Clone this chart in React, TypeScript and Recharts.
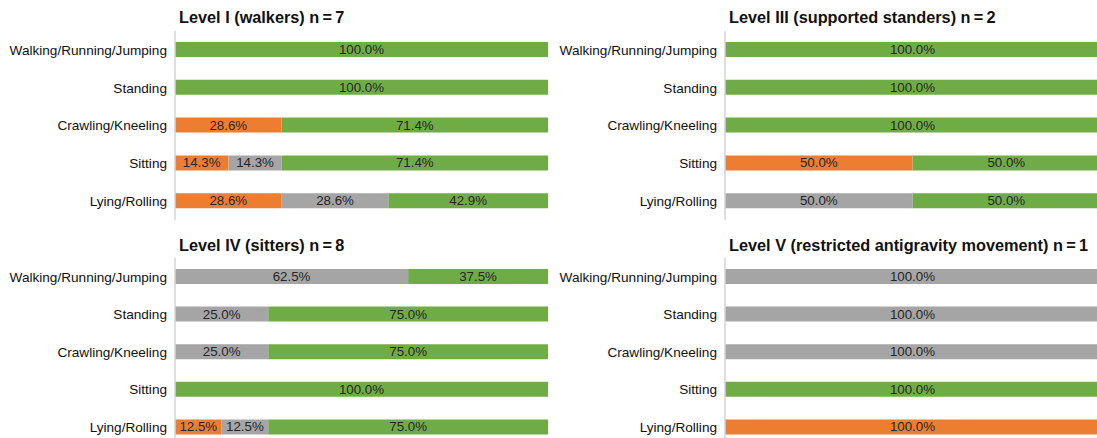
import React from 'react';
import { BarChart, Bar, XAxis, YAxis, LabelList } from 'recharts';

const categories = ['Walking/Running/Jumping', 'Standing', 'Crawling/Kneeling', 'Sitting', 'Lying/Rolling'];

// orange / gray / green shares (%) per level
const level1Orange = [0, 0, 28.6, 14.3, 28.6];
const level1Gray = [0, 0, 0, 14.3, 28.6];
const level1Green = [100, 100, 71.4, 71.4, 42.9];

const level3Orange = [0, 0, 0, 50, 0];
const level3Gray = [0, 0, 0, 0, 50];
const level3Green = [100, 100, 100, 50, 50];

const level4Orange = [0, 0, 0, 0, 12.5];
const level4Gray = [62.5, 25, 25, 0, 12.5];
const level4Green = [37.5, 75, 75, 100, 75];

const level5Orange = [0, 0, 0, 0, 100];
const level5Gray = [100, 100, 100, 0, 0];
const level5Green = [0, 0, 0, 100, 0];

const FONT = '"Liberation Sans", Arial, sans-serif';
const ORANGE = '#ED7D31';
const GRAY = '#A5A5A5';
const GREEN = '#6FAC46';

const renderLabel = (props: any) => {
  const { x, y, width, height, value } = props;
  if (!value) return null;
  return (
    <text
      x={Number(x) + Number(width) / 2}
      y={Number(y) + Number(height) / 2}
      textAnchor="middle"
      dominantBaseline="central"
      fontSize={13.3}
      fontFamily={FONT}
      fill="#262626"
    >
      {Number(value).toFixed(1)}%
    </text>
  );
};

interface PanelProps {
  title: string;
  orange: number[];
  gray: number[];
  green: number[];
  left: number;
  top: number;
  width: number;
  height: number;
  marginTop: number;
  titleTop: number;
}

function Panel({ title, orange, gray, green, left, top, width, height, marginTop, titleTop }: PanelProps) {
  const data = categories.map((name, i) => ({
    name,
    orange: orange[i],
    gray: gray[i],
    green: green[i],
  }));

  return (
    <>
      <div
        style={{
          position: 'absolute',
          left: left + 179,
          top: titleTop,
          fontFamily: FONT,
          fontWeight: 'bold',
          fontSize: 16.3,
          lineHeight: '16px',
          color: '#111',
          whiteSpace: 'nowrap',
        }}
      >
        {title}
      </div>
      <div style={{ position: 'absolute', left, top }}>
        <BarChart
          width={width}
          height={height}
          data={data}
          layout="vertical"
          margin={{ top: marginTop, right: 0, bottom: 0, left: 0 }}
        >
          <XAxis type="number" domain={[0, 100]} allowDataOverflow hide />
          <YAxis
            type="category"
            dataKey="name"
            width={175}
            tickLine={false}
            axisLine={{ stroke: '#d4d4d4', strokeWidth: 1.5 }}
            tick={{ fontSize: 13.6, fill: '#111', fontFamily: FONT }}
            interval={0}
          />
          <Bar dataKey="orange" stackId="a" fill={ORANGE} barSize={15} isAnimationActive={false}>
            <LabelList dataKey="orange" content={renderLabel} />
          </Bar>
          <Bar dataKey="gray" stackId="a" fill={GRAY} barSize={15} isAnimationActive={false}>
            <LabelList dataKey="gray" content={renderLabel} />
          </Bar>
          <Bar dataKey="green" stackId="a" fill={GREEN} barSize={15} isAnimationActive={false}>
            <LabelList dataKey="green" content={renderLabel} />
          </Bar>
        </BarChart>
      </div>
    </>
  );
}

export default function App() {
  return (
    <div
      style={{
        position: 'absolute',
        left: 0,
        top: 0,
        width: 1097,
        height: 438,
        overflow: 'hidden',
        background: '#fff',
      }}
    >
      <Panel
        title={'Level I (walkers) n\u2009=\u20097'}
        orange={level1Orange}
        gray={level1Gray}
        green={level1Green}
        left={0}
        top={0}
        width={548}
        height={220}
        marginTop={31}
        titleTop={9}
      />
      <Panel
        title={'Level III (supported standers) n\u2009=\u20092'}
        orange={level3Orange}
        gray={level3Gray}
        green={level3Green}
        left={550}
        top={0}
        width={550}
        height={220}
        marginTop={31}
        titleTop={9}
      />
      <Panel
        title={'Level IV (sitters) n\u2009=\u20098'}
        orange={level4Orange}
        gray={level4Gray}
        green={level4Green}
        left={0}
        top={258}
        width={548}
        height={188}
        marginTop={0}
        titleTop={237}
      />
      <Panel
        title={'Level V (restricted antigravity movement) n\u2009=\u20091'}
        orange={level5Orange}
        gray={level5Gray}
        green={level5Green}
        left={550}
        top={258}
        width={550}
        height={188}
        marginTop={0}
        titleTop={237}
      />
    </div>
  );
}
